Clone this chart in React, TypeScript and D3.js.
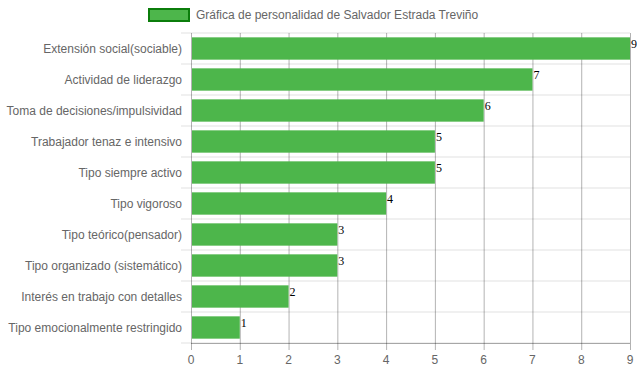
import React, { useEffect, useRef } from "react";
import * as d3 from "d3";

// Chart data
const categories = [
  "Extensión social(sociable)",
  "Actividad de liderazgo",
  "Toma de decisiones/impulsividad",
  "Trabajador tenaz e intensivo",
  "Tipo siempre activo",
  "Tipo vigoroso",
  "Tipo teórico(pensador)",
  "Tipo organizado (sistemático)",
  "Interés en trabajo con detalles",
  "Tipo emocionalmente restringido",
];
const values = [9, 7, 6, 5, 5, 4, 3, 3, 2, 1];
const seriesName = "Gráfica de personalidad de Salvador Estrada Treviño";
const xTicks = [0, 1, 2, 3, 4, 5, 6, 7, 8, 9];

const App = () => {
  const svgRef = useRef<SVGSVGElement>(null);

  useEffect(() => {
    const width = 637;
    const height = 371;
    const margin = { top: 33, right: 7, bottom: 28, left: 191 };
    const innerW = width - margin.left - margin.right;
    const innerH = height - margin.top - margin.bottom;
    const font = "'Liberation Sans', Arial, sans-serif";

    const svg = d3.select(svgRef.current);
    svg.selectAll("*").remove();
    svg.attr("width", width).attr("height", height);

    const x = d3.scaleLinear().domain([0, 9]).range([0, innerW]);
    const y = d3.scaleBand().domain(categories).range([0, innerH]);
    const barH = y.bandwidth() * 0.72;

    const g = svg.append("g").attr("transform", `translate(${margin.left},${margin.top})`);

    // horizontal category gridlines
    g.selectAll(".hgrid")
      .data(d3.range(categories.length + 1))
      .enter()
      .append("line")
      .attr("x1", -10)
      .attr("x2", innerW)
      .attr("y1", (i) => i * y.step())
      .attr("y2", (i) => i * y.step())
      .attr("stroke", "#ebebeb")
      .attr("stroke-width", 1.5);

    // vertical value gridlines
    g.selectAll(".vgrid")
      .data(xTicks)
      .enter()
      .append("line")
      .attr("x1", (d) => x(d) + 0.5)
      .attr("x2", (d) => x(d) + 0.5)
      .attr("y1", 0)
      .attr("y2", innerH + 7)
      .attr("stroke", "rgba(0,0,0,0.3)");

    // bottom axis line
    g.append("line")
      .attr("x1", 0)
      .attr("x2", innerW)
      .attr("y1", innerH + 0.5)
      .attr("y2", innerH + 0.5)
      .attr("stroke", "rgba(0,0,0,0.3)");

    // bars
    g.selectAll(".bar")
      .data(values)
      .enter()
      .append("rect")
      .attr("x", x(0) + 1)
      .attr("y", (d, i) => (y(categories[i]) as number) + (y.bandwidth() - barH) / 2)
      .attr("width", (d) => x(d) - x(0) - 1)
      .attr("height", barH)
      .attr("fill", "#4db64b");

    // value labels
    g.selectAll(".val")
      .data(values)
      .enter()
      .append("text")
      .attr("x", (d) => x(d) + 1)
      .attr("y", (d, i) => (y(categories[i]) as number) + y.bandwidth() / 2 - 1)
      .attr("font-family", "'Liberation Serif', 'Times New Roman', serif")
      .attr("font-size", 12)
      .attr("fill", "#000")
      .text((d) => d);

    // category labels
    g.selectAll(".cat")
      .data(categories)
      .enter()
      .append("text")
      .attr("x", -9)
      .attr("y", (d) => (y(d) as number) + y.bandwidth() / 2)
      .attr("dy", "0.35em")
      .attr("text-anchor", "end")
      .attr("font-family", font)
      .attr("font-size", 12)
      .attr("fill", "#666")
      .text((d) => d);

    // x tick labels
    g.selectAll(".xt")
      .data(xTicks)
      .enter()
      .append("text")
      .attr("x", (d) => x(d))
      .attr("y", innerH + 17)
      .attr("dy", "0.35em")
      .attr("text-anchor", "middle")
      .attr("font-family", font)
      .attr("font-size", 12)
      .attr("fill", "#666")
      .text((d) => d);

    // legend
    const lg = svg.append("g");
    lg.append("rect")
      .attr("x", 149)
      .attr("y", 9)
      .attr("width", 40)
      .attr("height", 12)
      .attr("fill", "#4db64b")
      .attr("stroke", "#0b7d0b")
      .attr("stroke-width", 2);
    lg.append("text")
      .attr("x", 196)
      .attr("y", 15)
      .attr("dy", "0.35em")
      .attr("font-family", font)
      .attr("font-size", 12)
      .attr("fill", "#666")
      .text(seriesName);
  }, []);

  return (
    <div style={{ position: "absolute", left: 0, top: 0 }}>
      <svg ref={svgRef}></svg>
    </div>
  );
};

export default App;
